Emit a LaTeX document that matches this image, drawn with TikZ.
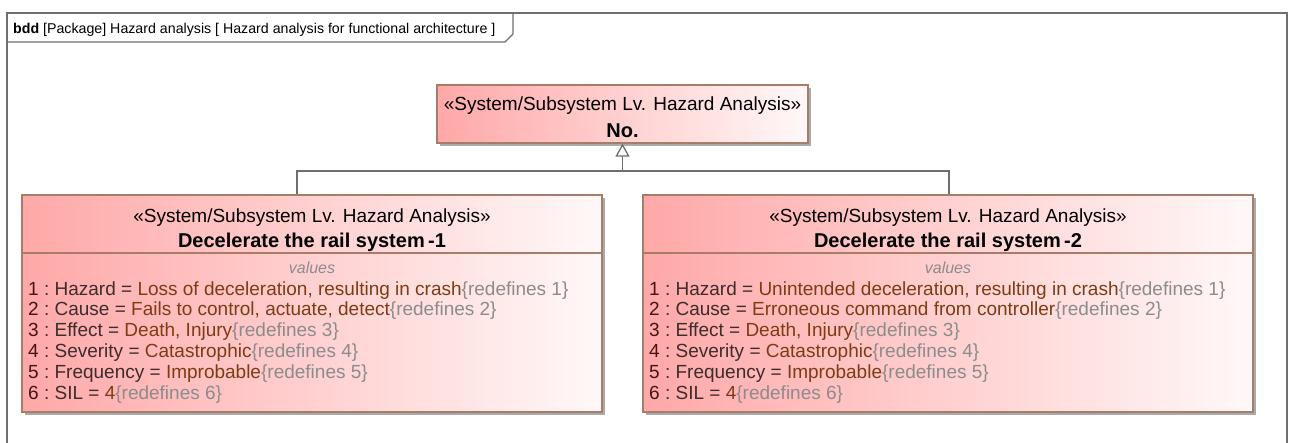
\documentclass[tikz,border=0pt]{standalone}
\usepackage{fontspec}
\setmainfont{Liberation Sans}
\usetikzlibrary{arrows.meta}
\definecolor{pinkL}{RGB}{255,168,168}
\definecolor{pinkR}{RGB}{255,248,248}
\definecolor{bordercol}{RGB}{165,125,105}
\definecolor{numcol}{RGB}{70,20,20}
\definecolor{namecol}{RGB}{60,45,45}
\definecolor{valcol}{RGB}{125,60,20}
\definecolor{redcol}{RGB}{140,140,140}
\definecolor{framecol}{RGB}{110,110,110}
\definecolor{shadowcol}{RGB}{170,170,170}
\newcommand{\attrline}[4]{\textcolor{numcol}{#1}\textcolor{namecol}{\ :\ #2 = }\textcolor{valcol}{#3}\textcolor{redcol}{\{redefines #4\}}}
\tikzset{
  blockbox/.style={draw=bordercol, line width=1.2pt, rectangle, left color=pinkL, right color=pinkR, inner sep=0pt},
  shadowbox/.style={fill=shadowcol, draw=none},
  stereo/.style={anchor=base, text=black, inner sep=0pt},
  bname/.style={anchor=base, text=black, font=\fontsize{20}{24}\selectfont\bfseries, inner sep=0pt},
  attr/.style={anchor=base west, inner sep=0pt},
  compart/.style={anchor=base, text=redcol, font=\fontsize{16}{19}\selectfont\itshape, inner sep=0pt},
  genline/.style={draw=framecol, line width=1.3pt},
  framel/.style={draw=framecol, line width=1.5pt}
}
\begin{document}
\begin{tikzpicture}[x=1pt,y=-1pt, font=\fontsize{19}{23}\selectfont]
\useasboundingbox (0,0) rectangle (1289,442);
% frame
\draw[framel] (7,470) -- (7,13) -- (1287,13) -- (1287,470);
\draw[framecol, line width=1.2pt] (7,42) -- (505,42) -- (513,34) -- (513,13);
\node[anchor=base west, inner sep=0pt, font=\fontsize{14.2}{17}\selectfont] (title) at (13,33) {\textbf{bdd} [Package] Hazard analysis [ Hazard analysis for functional architecture ]};
% shadows
\fill[shadowbox] (440,88) rectangle (811,146);
\fill[shadowbox] (25,198) rectangle (605,415);
\fill[shadowbox] (646,198) rectangle (1256,415);
% boxes
\node[blockbox, minimum width=371pt, minimum height=58pt] (tb) at (622.5,114) {};
\node[blockbox, minimum width=580pt, minimum height=217pt] (lb) at (312,303.5) {};
\node[blockbox, minimum width=610pt, minimum height=217pt] (rb) at (948,303.5) {};
\draw[bordercol, line width=1.2pt] (lb.west |- 0,253) -- (lb.east |- 0,253);
\draw[bordercol, line width=1.2pt] (rb.west |- 0,253) -- (rb.east |- 0,253);
% top box text
\node[stereo] (tbs) at (622.5,110) {«System/Subsystem Lv. Hazard Analysis»};
\node[bname] (tbn) at (622.5,137) {No.};
% left box text
\node[stereo] (lbs) at (312,222) {«System/Subsystem Lv. Hazard Analysis»};
\node[bname] (lbn) at (312,247) {Decelerate the rail system\,-1};
\node[compart] (lbv) at (312,273) {values};
\node[attr] (l1) at (28,295) {\attrline{1}{Hazard}{Loss of deceleration, resulting in crash}{1}};
\node[attr] (l2) at (28,315.5) {\attrline{2}{Cause}{Fails to control, actuate, detect}{2}};
\node[attr] (l3) at (28,336.5) {\attrline{3}{Effect}{Death, Injury}{3}};
\node[attr] (l4) at (28,357.5) {\attrline{4}{Severity}{Catastrophic}{4}};
\node[attr] (l5) at (28,378.5) {\attrline{5}{Frequency}{Improbable}{5}};
\node[attr] (l6) at (28,399) {\attrline{6}{SIL}{4}{6}};
% right box text
\node[stereo] (rbs) at (948,222) {«System/Subsystem Lv. Hazard Analysis»};
\node[bname] (rbn) at (948,247) {Decelerate the rail system\,-2};
\node[compart] (rbv) at (948,273) {values};
\node[attr] (r1) at (649,295) {\attrline{1}{Hazard}{Unintended deceleration, resulting in crash}{1}};
\node[attr] (r2) at (649,315.5) {\attrline{2}{Cause}{Erroneous command from controller}{2}};
\node[attr] (r3) at (649,336.5) {\attrline{3}{Effect}{Death, Injury}{3}};
\node[attr] (r4) at (649,357.5) {\attrline{4}{Severity}{Catastrophic}{4}};
\node[attr] (r5) at (649,378.5) {\attrline{5}{Frequency}{Improbable}{5}};
\node[attr] (r6) at (649,399) {\attrline{6}{SIL}{4}{6}};
% generalization
\coordinate (jn) at (622.5,171);
\draw[genline] ([xshift=-15pt]lb.north) |- (jn);
\draw[genline] ([xshift=1pt]rb.north) |- (jn);
\draw[genline, -{Triangle[open, length=13pt, width=14pt, fill=white]}] (jn) -- (tb.south);
\end{tikzpicture}
\end{document}
